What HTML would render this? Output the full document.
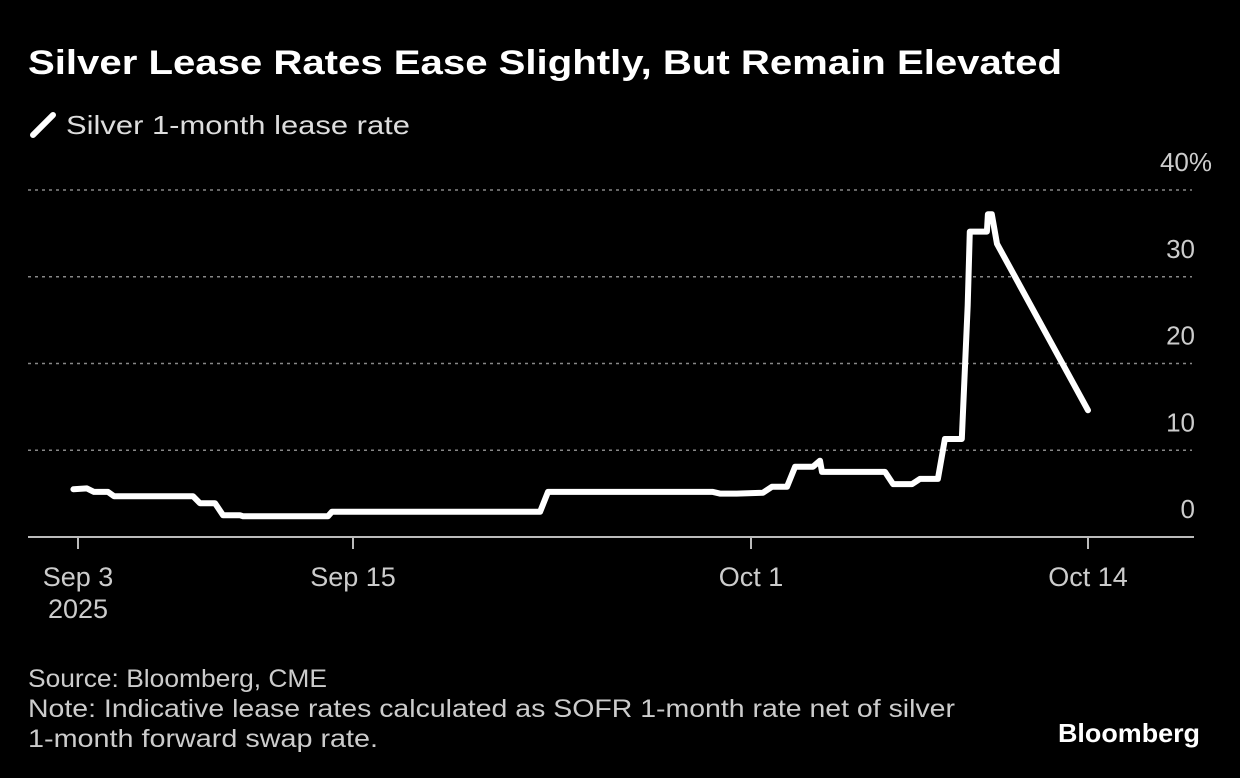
<!DOCTYPE html>
<html><head><meta charset="utf-8"><style>
body{margin:0;background:#000;width:1240px;height:778px;overflow:hidden;font-family:"Liberation Sans",sans-serif;color:#fff}
svg{position:absolute;left:0;top:0}
</style></head><body>
<svg width="1240" height="778">
<text x="28" y="74" font-size="34" font-weight="bold" fill="#fff" textLength="1034" lengthAdjust="spacingAndGlyphs">Silver Lease Rates Ease Slightly, But Remain Elevated</text>
<g>
<line x1="33" y1="135" x2="53" y2="115" stroke="#fff" stroke-width="6" stroke-linecap="round"/>
<text x="66" y="134" font-size="26" fill="#ddd" textLength="344" lengthAdjust="spacingAndGlyphs">Silver 1-month lease rate</text>
</g>
<g id="grid"></g><g id="axes"></g>
<path id="line" fill="none" stroke="#fff" stroke-width="6" stroke-linejoin="round" stroke-linecap="round"/>
<g font-size="25" fill="#ccc">
<text x="28" y="687" textLength="299" lengthAdjust="spacingAndGlyphs">Source: Bloomberg, CME</text>
<text x="28" y="717" textLength="927" lengthAdjust="spacingAndGlyphs">Note: Indicative lease rates calculated as SOFR 1-month rate net of silver</text>
<text x="28" y="747" textLength="350" lengthAdjust="spacingAndGlyphs">1-month forward swap rate.</text>
</g>
<text x="1058" y="742" font-size="26" font-weight="bold" fill="#fff" textLength="142" lengthAdjust="spacingAndGlyphs">Bloomberg</text>
</svg>
<script>
const days=[-0.2,0.39,0.7,1.31,1.57,5.02,5.32,5.98,6.33,7.07,7.2,10.91,11.08,19.52,19.84,22.45,22.81,26.47,26.75,27.43,28.46,28.81,29.39,29.7,30.39,30.66,30.74,33.17,33.48,34.21,34.52,35.21,35.48,36.13,36.36,36.44,37.1,37.14,37.29,37.49,41];
const values=[5.5,5.6,5.2,5.2,4.7,4.7,3.9,3.9,2.5,2.5,2.4,2.4,2.9,2.9,5.2,5.2,5.2,5.2,5.0,5.0,5.1,5.8,5.8,8.1,8.1,8.8,7.5,7.5,6.1,6.1,6.7,6.7,11.3,11.3,26.7,35.2,35.2,37.2,37.2,33.8,14.6];
const yTicks=[0,10,20,30,40];
const xTickDays=[0,12,28,41];
const xTickLabels=["Sep 3","Sep 15","Oct 1","Oct 14"];
const anchorD=[0,12,28,41],anchorX=[78,353,751,1088];
function x(d){let i=0;while(i<anchorD.length-2&&d>anchorD[i+1])i++;return anchorX[i]+(d-anchorD[i])*(anchorX[i+1]-anchorX[i])/(anchorD[i+1]-anchorD[i]);}
function y(v){return 537-v*8.675;}
const NS="http://www.w3.org/2000/svg";
const grid=document.getElementById('grid'),axes=document.getElementById('axes');
yTicks.forEach(t=>{
 if(t>0){const l=document.createElementNS(NS,'line');
 l.setAttribute('x1',28);l.setAttribute('x2',1192);l.setAttribute('y1',y(t));l.setAttribute('y2',y(t));
 l.setAttribute('stroke','#888');l.setAttribute('stroke-dasharray','3,4');l.setAttribute('stroke-width','1.5');
 
 
 grid.appendChild(l);}
 const tx=document.createElementNS(NS,'text');
 tx.setAttribute('x',t===40?1212:1195);tx.setAttribute('y',y(t)-19);tx.setAttribute('text-anchor','end');
 tx.setAttribute('font-size','26');tx.setAttribute('fill','#ccc');
 tx.textContent=t===40?'40%':String(t);
 
 
 axes.appendChild(tx);
});
const base=document.createElementNS(NS,'line');
base.setAttribute('x1',28);base.setAttribute('x2',1194);base.setAttribute('y1',537);base.setAttribute('y2',537);
base.setAttribute('stroke','#bbb');base.setAttribute('stroke-width','2');


axes.appendChild(base);
xTickDays.forEach((d,i)=>{
 const l=document.createElementNS(NS,'line');
 l.setAttribute('x1',x(d));l.setAttribute('x2',x(d));l.setAttribute('y1',537);l.setAttribute('y2',549);
 l.setAttribute('stroke','#bbb');l.setAttribute('stroke-width','2');
 
 
 axes.appendChild(l);
 const tx=document.createElementNS(NS,'text');
 tx.setAttribute('x',x(d));tx.setAttribute('y',586);tx.setAttribute('text-anchor','middle');
 tx.setAttribute('font-size','27');tx.setAttribute('fill','#ccc');tx.textContent=xTickLabels[i];
 
 
 axes.appendChild(tx);
});
const yr=document.createElementNS(NS,'text');
yr.setAttribute('x',x(0));yr.setAttribute('y',618);yr.setAttribute('text-anchor','middle');
yr.setAttribute('font-size','27');yr.setAttribute('fill','#ccc');yr.textContent='2025';


axes.appendChild(yr);
document.getElementById('line').setAttribute('d',days.map((d,i)=>(i?'L':'M')+x(d).toFixed(1)+','+y(values[i]).toFixed(1)).join(''));
</script>
</body></html>
